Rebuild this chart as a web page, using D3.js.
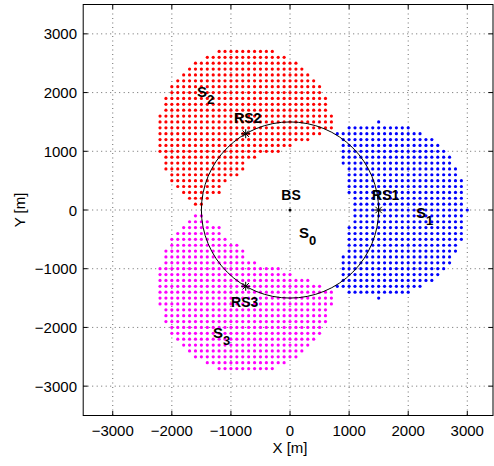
<!DOCTYPE html>
<html>
<head>
<meta charset="utf-8">
<script src="https://cdn.jsdelivr.net/npm/d3@7"></script>
<style>
  html, body { margin: 0; padding: 0; background: #fff; }
  svg text { font-family: "Liberation Sans", Arial, Helvetica, sans-serif; }
</style>
</head>
<body>
<svg id="chart" width="494" height="466"></svg>
<script>
// ---- data ----
const xTicks = [-3000, -2000, -1000, 0, 1000, 2000, 3000];
const yTicks = [-3000, -2000, -1000, 0, 1000, 2000, 3000];
const xDomain = [-3500, 3435];
const yDomain = [-3500, 3500];

const bsPos = [0, 0];
const rsNames = ["RS1", "RS2", "RS3"];
const rsX = [1500, -750, -750];
const rsY = [0, 1299, -1299];
const regionNames = ["1", "2", "3"];
const regionColors = ["#0000ff", "#ff0000", "#ff00ff"];
const coverageRadius = 1500;   // radius around each RS (m)
const bsCircleRadius = 1500;   // black circle around BS (m)
const gridStep = 100;          // user grid spacing (m)

// inner boundary of each relay region (S0 edge), read as depth from BS
// toward the RS, against sideways offset from the BS-RS line (m)
const s0Offset = [0, 200, 300, 700, 800, 1200, 1300, 1500];
const s0Depth  = [1050, 1050, 950, 950, 850, 850, 750, 700];

// ---- drawing ----
const svg = d3.select("#chart");
const x = d3.scaleLinear().domain(xDomain).range([83.2, 493]);
const y = d3.scaleLinear().domain(yDomain).range([415.5, 4.5]);
const depthAt = d3.scaleLinear().domain(s0Offset).range(s0Depth).clamp(true);

// grid lines (dotted)
const gridG = svg.append("g");
gridG.selectAll("line.gx").data(xTicks).join("line")
  .attr("x1", d => x(d)).attr("x2", d => x(d))
  .attr("y1", y(yDomain[1])).attr("y2", y(yDomain[0]))
  .attr("stroke", "#444").attr("stroke-width", 0.8).attr("stroke-dasharray", "1,3.5");
gridG.selectAll("line.gy").data(yTicks).join("line")
  .attr("y1", d => y(d)).attr("y2", d => y(d))
  .attr("x1", x(xDomain[0])).attr("x2", x(xDomain[1]))
  .attr("stroke", "#444").attr("stroke-width", 0.8).attr("stroke-dasharray", "1,3.5");

// user points
const pts = [];
const gx0 = Math.ceil(xDomain[0] / gridStep), gx1 = Math.floor(xDomain[1] / gridStep);
const gy0 = Math.ceil(yDomain[0] / gridStep), gy1 = Math.floor(yDomain[1] / gridStep);
for (let i = gx0; i <= gx1; i++) {
  for (let j = gy0; j <= gy1; j++) {
    const px = i * gridStep, py = j * gridStep;
    let best = -1, bestD = Infinity;
    for (let k = 0; k < rsX.length; k++) {
      const d = Math.hypot(px - rsX[k], py - rsY[k]);
      if (d <= coverageRadius + 1e-6 && d < bestD) { bestD = d; best = k; }
    }
    if (best < 0) continue;
    const len = Math.hypot(rsX[best], rsY[best]);
    const ux = rsX[best] / len, uy = rsY[best] / len;
    const proj = px * ux + py * uy;
    const side = Math.abs(-px * uy + py * ux);
    if (proj < depthAt(side)) continue;
    pts.push({ x: px, y: py, k: best });
  }
}
svg.append("g").selectAll("circle").data(pts).join("circle")
  .attr("cx", d => x(d.x)).attr("cy", d => y(d.y)).attr("r", 1.6)
  .attr("fill", d => regionColors[d.k]);

// black circle around BS
svg.append("ellipse")
  .attr("cx", x(bsPos[0])).attr("cy", y(bsPos[1]))
  .attr("rx", x(bsCircleRadius) - x(0)).attr("ry", y(0) - y(bsCircleRadius))
  .attr("fill", "none").attr("stroke", "#000").attr("stroke-width", 1);

// BS dot
svg.append("circle").attr("cx", x(bsPos[0])).attr("cy", y(bsPos[1])).attr("r", 1.5).attr("fill", "#000");

// RS asterisks
const star = svg.append("g");
rsX.forEach((rx, k) => {
  const cx = x(rx), cy = y(rsY[k]), s = 4.5, t = 3.2;
  const p = `M${cx - s},${cy}L${cx + s},${cy}M${cx},${cy - s}L${cx},${cy + s}` +
            `M${cx - t},${cy - t}L${cx + t},${cy + t}M${cx - t},${cy + t}L${cx + t},${cy - t}`;
  star.append("path").attr("d", p).attr("stroke", "#000").attr("stroke-width", 1).attr("fill", "none");
});

// axes box + inward ticks
const L = x(xDomain[0]), R = x(xDomain[1]), T = y(yDomain[1]), B = y(yDomain[0]);
svg.append("rect").attr("x", L).attr("y", T).attr("width", R - L).attr("height", B - T)
  .attr("fill", "none").attr("stroke", "#000").attr("stroke-width", 1);
const tk = 4.5;
xTicks.forEach(v => {
  svg.append("line").attr("x1", x(v)).attr("x2", x(v)).attr("y1", B).attr("y2", B - tk).attr("stroke", "#000");
  svg.append("line").attr("x1", x(v)).attr("x2", x(v)).attr("y1", T).attr("y2", T + tk).attr("stroke", "#000");
});
yTicks.forEach(v => {
  svg.append("line").attr("y1", y(v)).attr("y2", y(v)).attr("x1", L).attr("x2", L + tk).attr("stroke", "#000");
  svg.append("line").attr("y1", y(v)).attr("y2", y(v)).attr("x1", R).attr("x2", R - tk).attr("stroke", "#000");
});

const fmt = v => (v < 0 ? "\u2212" + Math.abs(v) : String(v));
svg.append("g").selectAll("text").data(xTicks).join("text")
  .attr("x", d => x(d)).attr("y", 436).attr("text-anchor", "middle")
  .attr("font-size", 15).text(fmt);
svg.append("g").selectAll("text").data(yTicks).join("text")
  .attr("x", 77).attr("y", d => y(d) + 5.5).attr("text-anchor", "end")
  .attr("font-size", 15).text(fmt);

svg.append("text").attr("x", 290).attr("y", 453).attr("text-anchor", "middle")
  .attr("font-size", 15).text("X [m]");
svg.append("text").attr("transform", "translate(25,210) rotate(-90)").attr("text-anchor", "middle")
  .attr("font-size", 15).text("Y [m]");

// annotations
const bold = (tx, ty, str, anchor) => svg.append("text").attr("x", tx).attr("y", ty)
  .attr("text-anchor", anchor || "middle").attr("font-size", 14).attr("font-weight", "bold").text(str);
bold(x(bsPos[0]) + 1, 200, "BS");
bold(x(rsX[0]) + 7, 200, rsNames[0]);
bold(x(rsX[1]) + 2, 123, rsNames[1]);
bold(x(rsX[2]) - 1, 307, rsNames[2]);

const sub = (tx, ty, n) => {
  const t = svg.append("text").attr("x", tx).attr("y", ty).attr("font-size", 15).attr("font-weight", "bold");
  t.append("tspan").text("S");
  t.append("tspan").attr("dy", 7).attr("font-size", 13).text(n);
};
sub(197, 97, regionNames[1]);
sub(416, 218, regionNames[0]);
sub(213, 338, regionNames[2]);
sub(299, 238, "0");
</script>
</body>
</html>
